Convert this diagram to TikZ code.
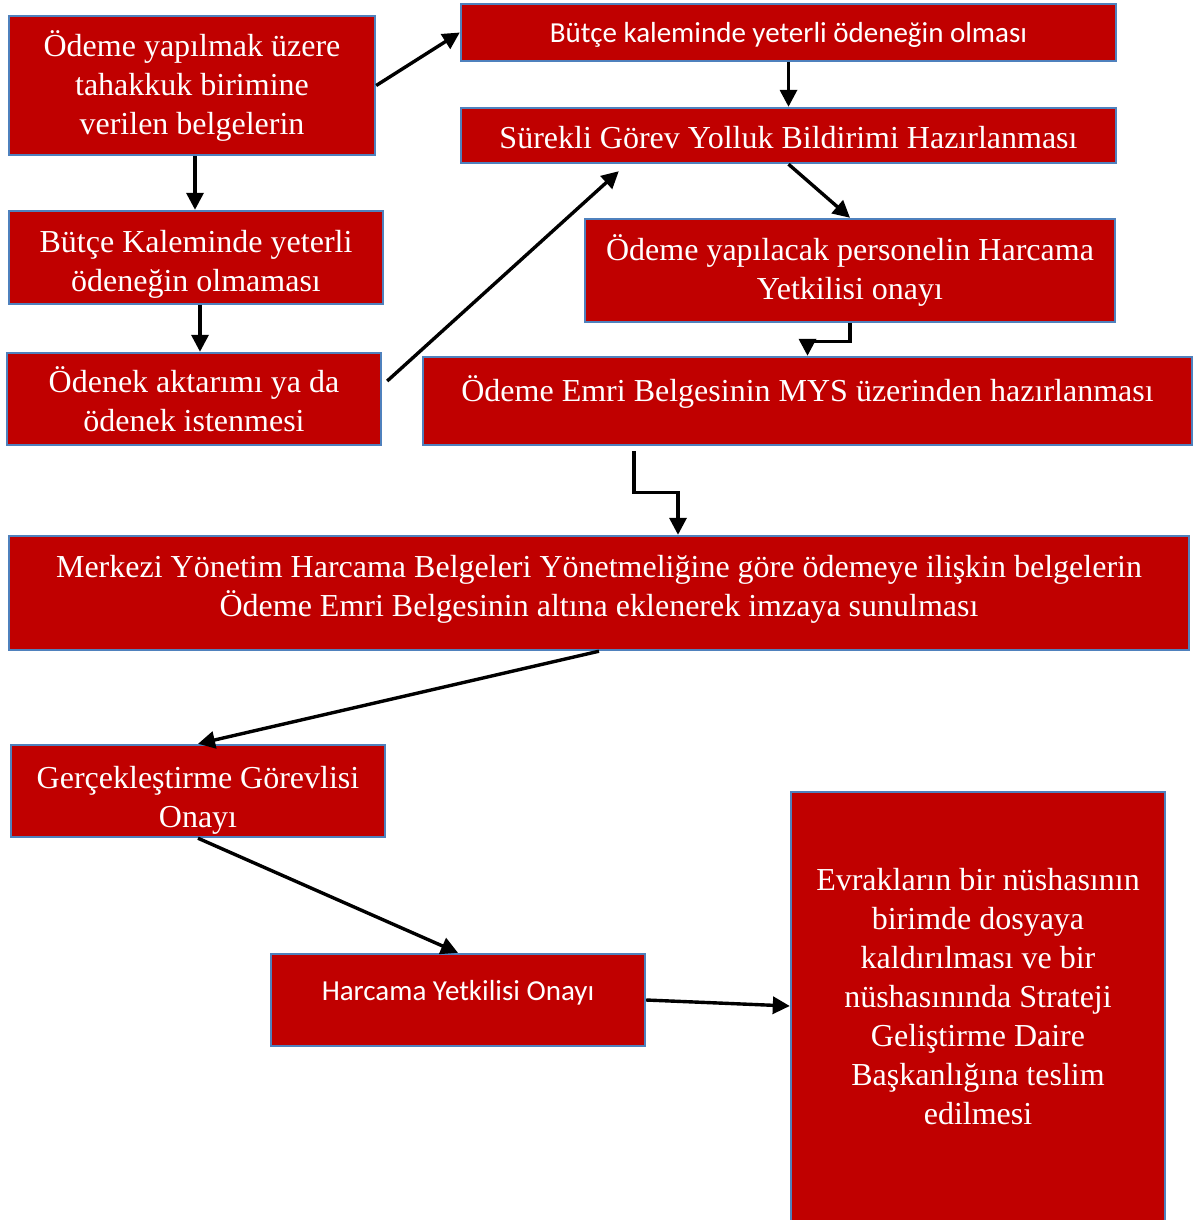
\documentclass[tikz,border=0pt]{standalone}
\usepackage{fontspec}
\setmainfont{Liberation Serif}
\newfontfamily\calibri{Carlito}
\usepackage{tikz}
\usetikzlibrary{arrows.meta, positioning}
\usepackage{xcolor}
\definecolor{boxred}{RGB}{192,0,0}
\definecolor{boxblue}{RGB}{79,129,189}

\begin{document}
\begin{tikzpicture}[
  x=0.5pt, y=-0.5pt,
  box/.style={draw=boxblue, line width=1.2pt, fill=boxred, text=white,
              align=center, inner sep=2pt,
              font=\fontsize{16}{19.5}\selectfont},
  cbox/.style={box, font=\calibri\fontsize{14.5}{17.5}\selectfont},
  arr/.style={->, line width=1.7pt},
  >={Triangle[length=8.5pt, width=8.5pt]}
]
  \useasboundingbox (0,0) rectangle (1193,1220);

  \node[box, minimum width=183pt, minimum height=69.5pt] (odeme) at (192,85.5)
    {Ödeme yapılmak üzere\\tahakkuk birimine\\verilen belgelerin};
  \node[cbox, minimum width=327.5pt, minimum height=28.5pt,
        text height=11pt, text depth=1pt] (yeterli) at (788.5,32.5)
    {Bütçe kaleminde yeterli ödeneğin olması};
  \node[box, minimum width=327.5pt, minimum height=27.5pt,
        text height=16pt, text depth=2.6pt] (surekli) at (788.5,135.5)
    {Sürekli Görev Yolluk Bildirimi Hazırlanması};
  \node[box, minimum width=265pt, minimum height=51.5pt] (personel) at (850,270.5)
    {Ödeme yapılacak personelin Harcama\\Yetkilisi onayı};
  \node[box, minimum width=187pt, minimum height=46.5pt, inner ysep=0pt] (yetersiz) at (196,257.5)
    {\mbox{}\\[-2pt]Bütçe Kaleminde yeterli\\ödeneğin olmaması};
  \node[box, minimum width=187pt, minimum height=46pt] (aktarim) at (194,399)
    {Ödenek aktarımı ya da\\ödenek istenmesi};
  \node[box, minimum width=384.5pt, minimum height=44pt,
        text height=12pt, text depth=12pt] (mys) at (807.5,401)
    {Ödeme Emri Belgesinin MYS üzerinden hazırlanması};
  \node[box, minimum width=590pt, minimum height=57pt] (merkezi) at (599,593)
    {Merkezi Yönetim Harcama Belgeleri Yönetmeliğine göre ödemeye ilişkin belgelerin\\
     Ödeme Emri Belgesinin altına eklenerek imzaya sunulması\\[-12pt]\mbox{}};
  \node[box, minimum width=187pt, minimum height=46pt, inner ysep=0pt] (gerceklestirme) at (198,791)
    {\mbox{}\\[1.3pt]Gerçekleştirme Görevlisi\\Onayı};
  \node[cbox, minimum width=187pt, minimum height=46pt,
        text height=10pt, text depth=10pt] (harcama) at (458,1000)
    {Harcama Yetkilisi Onayı};
  \node[box, minimum width=187pt, minimum height=219pt] (evrak) at (978,1011)
    {Evrakların bir nüshasının\\birimde dosyaya\\kaldırılması ve bir\\
     nüshasınında Strateji\\Geliştirme Daire\\Başkanlığına teslim\\edilmesi\\[-4.5pt]\mbox{}};

  \draw[arr] (odeme.east) -- (yeterli.west);
  \draw[arr] ([xshift=1.5pt]odeme.south) -- ([xshift=1.5pt]odeme.south |- yetersiz.north);
  \draw[arr] (yeterli.south) -- (surekli.north);
  \draw[arr] (surekli.south) -- (personel.north);
  \draw[arr] ([xshift=2pt]yetersiz.south) -- ([xshift=2pt]yetersiz.south |- aktarim.north);
  \draw[arr] ([shift={(5,-18)}]aktarim.east) -- ([shift={(159,7)}]surekli.south west);
  \draw[arr] (personel.south) -- ++(0,18) -| (mys.north);
  \draw[arr] ([shift={(-173.5,5)}]mys.south) -- ++(0,41) -| ([xshift=39.5pt]merkezi.north);
  \draw[arr] (merkezi.south) -- (gerceklestirme.north);
  \draw[arr] (gerceklestirme.south) -- (harcama.north);
  \draw[arr] (harcama.east) -- ([yshift=2.5pt]evrak.west);
\end{tikzpicture}
\end{document}
